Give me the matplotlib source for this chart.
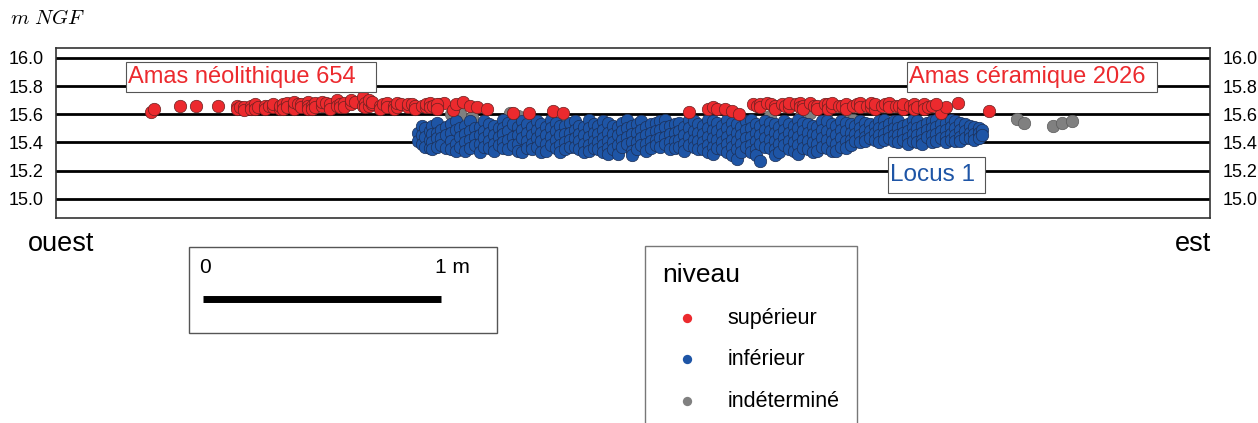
import matplotlib
matplotlib.use("Agg")
import matplotlib.pyplot as plt
from matplotlib.patches import Rectangle
from matplotlib.lines import Line2D

plt.rcParams['font.family'] = ['Liberation Sans', 'DejaVu Sans']
plt.rcParams['mathtext.fontset'] = 'cm'

# ---------------- data (distance along section in m, altitude in m NGF) ----------------
y_ticks = [15.0, 15.2, 15.4, 15.6, 15.8, 16.0]

# niveau supérieur : isolated points
red_x = [0.40, 0.41, 0.52, 0.59, 0.68,
         1.61, 1.63, 1.67, 1.68, 1.71, 1.74, 1.77, 1.81, 1.92, 1.99, 2.09, 2.13,
         2.66, 2.74, 2.76, 2.78, 2.81, 2.84, 2.87,
         3.72, 3.74, 3.79, 3.92]
red_y = [15.615, 15.635, 15.66, 15.66, 15.66,
         15.67, 15.68, 15.63, 15.67, 15.69, 15.66, 15.65, 15.64, 15.61, 15.61, 15.62, 15.61,
         15.615, 15.64, 15.65, 15.64, 15.64, 15.62, 15.60,
         15.61, 15.65, 15.68, 15.62]
# niveau supérieur : dense bands (x, [altitudes])
red_bands = [
    (0.76, [15.66, 15.64]), (0.775, [15.65]), (0.79, [15.65, 15.63]), (0.82, [15.66, 15.64]),
    (0.835, [15.67, 15.64]), (0.85, [15.65]), (0.88, [15.66, 15.64]), (0.895, [15.66]),
    (0.91, [15.65, 15.67]), (0.94, [15.64, 15.66]), (0.955, [15.67, 15.64]),
    (0.97, [15.68, 15.65]), (1.00, [15.66, 15.64, 15.69]), (1.015, [15.67]),
    (1.03, [15.67, 15.65]), (1.06, [15.69, 15.66, 15.64]), (1.075, [15.66, 15.64]),
    (1.09, [15.68, 15.65]), (1.12, [15.66, 15.69]), (1.135, [15.68]),
    (1.15, [15.67, 15.64]), (1.18, [15.70, 15.66]), (1.195, [15.67, 15.65]),
    (1.21, [15.68, 15.65]), (1.24, [15.67, 15.70]), (1.255, [15.69]),
    (1.29, [15.72, 15.66]), (1.30, [15.68, 15.65]), (1.315, [15.66, 15.70]),
    (1.33, [15.67, 15.69]), (1.36, [15.66, 15.64]), (1.375, [15.67]),
    (1.39, [15.68, 15.65]), (1.42, [15.66, 15.64]), (1.435, [15.65, 15.68]),
    (1.45, [15.67]), (1.48, [15.65, 15.67]), (1.495, [15.67]), (1.51, [15.66, 15.64]),
    (1.54, [15.66]), (1.555, [15.65, 15.67]), (1.57, [15.68, 15.65]), (1.585, [15.66]),
    (1.60, [15.67, 15.64]),
    (2.93, [15.67]), (2.945, [15.66]), (2.96, [15.67, 15.65]), (2.99, [15.68]),
    (3.005, [15.67]), (3.02, [15.66, 15.64]), (3.05, [15.67]), (3.065, [15.66]),
    (3.08, [15.65, 15.68]), (3.11, [15.67]), (3.125, [15.68, 15.65]),
    (3.14, [15.66, 15.64]), (3.17, [15.68]), (3.185, [15.66]), (3.20, [15.66, 15.64]),
    (3.23, [15.67]), (3.245, [15.67, 15.64]), (3.26, [15.65, 15.68]), (3.29, [15.66]),
    (3.305, [15.66]), (3.32, [15.67, 15.64]), (3.35, [15.66]), (3.365, [15.67]),
    (3.38, [15.68, 15.65]), (3.41, [15.66]), (3.425, [15.65, 15.68]),
    (3.44, [15.64, 15.67]), (3.47, [15.66]), (3.485, [15.67]), (3.50, [15.68, 15.65]),
    (3.53, [15.66]), (3.545, [15.66]), (3.56, [15.64, 15.67]), (3.59, [15.66]),
    (3.605, [15.67, 15.64]), (3.62, [15.65]), (3.65, [15.67, 15.64]), (3.665, [15.65]),
    (3.68, [15.66]), (3.70, [15.67]),
]

# niveau inférieur : dense band (x, [altitudes])
blue_bands = [
    (1.52, [15.47, 15.41]), (1.54, [15.52, 15.45, 15.39]), (1.55, [15.50, 15.44, 15.37]),
    (1.57, [15.48, 15.42, 15.36]), (1.58, [15.52, 15.46, 15.40, 15.35]),
    (1.60, [15.54, 15.47, 15.43, 15.37]), (1.62, [15.49, 15.43, 15.38]),
    (1.64, [15.51, 15.45, 15.36]), (1.66, [15.53, 15.47, 15.41, 15.35]),
    (1.68, [15.55, 15.49, 15.39, 15.34]), (1.70, [15.50, 15.44, 15.37]),
    (1.72, [15.52, 15.46, 15.40, 15.34]), (1.74, [15.55, 15.48, 15.42, 15.36]),
    (1.76, [15.50, 15.44, 15.38]), (1.78, [15.51, 15.45, 15.39, 15.33]),
    (1.80, [15.55, 15.48, 15.43, 15.37]), (1.82, [15.53, 15.47, 15.41, 15.36]),
    (1.84, [15.52, 15.45, 15.39, 15.34]), (1.86, [15.50, 15.44, 15.38]),
    (1.88, [15.56, 15.50, 15.46, 15.40, 15.36]), (1.90, [15.54, 15.48, 15.42, 15.35]),
    (1.92, [15.53, 15.44, 15.38]), (1.94, [15.51, 15.45, 15.39, 15.34]),
    (1.96, [15.55, 15.49, 15.43, 15.33]), (1.98, [15.53, 15.47, 15.41, 15.36]),
    (2.00, [15.51, 15.45, 15.39, 15.35]), (2.02, [15.55, 15.49, 15.43, 15.37]),
    (2.04, [15.53, 15.47, 15.41, 15.33]), (2.06, [15.51, 15.45, 15.39, 15.34]),
    (2.08, [15.56, 15.50, 15.44, 15.38]), (2.10, [15.54, 15.48, 15.42, 15.36]),
    (2.12, [15.52, 15.45, 15.38, 15.33]), (2.14, [15.52, 15.46, 15.40, 15.35]),
    (2.16, [15.54, 15.47, 15.42, 15.37]), (2.18, [15.55, 15.49, 15.43, 15.37]),
    (2.20, [15.52, 15.46, 15.41, 15.35]), (2.22, [15.51, 15.45, 15.39, 15.33]),
    (2.24, [15.56, 15.50, 15.44, 15.38, 15.34]), (2.26, [15.53, 15.47, 15.41, 15.36]),
    (2.28, [15.52, 15.46, 15.40, 15.35]), (2.30, [15.55, 15.49, 15.43, 15.38, 15.33]),
    (2.32, [15.54, 15.47, 15.41, 15.36, 15.32]), (2.34, [15.52, 15.46, 15.40, 15.35]),
    (2.36, [15.51, 15.45, 15.38, 15.32]), (2.38, [15.54, 15.48, 15.42, 15.37]),
    (2.40, [15.56, 15.50, 15.44, 15.39]), (2.42, [15.52, 15.46, 15.40, 15.34, 15.31]),
    (2.44, [15.53, 15.47, 15.40, 15.35]), (2.46, [15.55, 15.49, 15.43, 15.38]),
    (2.48, [15.51, 15.45, 15.39, 15.34]), (2.50, [15.53, 15.47, 15.41, 15.36]),
    (2.52, [15.54, 15.48, 15.42, 15.38]), (2.54, [15.55, 15.49, 15.43, 15.37]),
    (2.56, [15.56, 15.51, 15.44, 15.39]), (2.58, [15.52, 15.46, 15.40, 15.35]),
    (2.60, [15.53, 15.47, 15.41, 15.36]), (2.62, [15.54, 15.48, 15.42, 15.37]),
    (2.64, [15.51, 15.45, 15.39, 15.34]), (2.66, [15.56, 15.50, 15.44, 15.38]),
    (2.68, [15.55, 15.48, 15.42, 15.37]), (2.70, [15.53, 15.47, 15.41, 15.35]),
    (2.72, [15.52, 15.46, 15.40, 15.35]), (2.74, [15.56, 15.50, 15.44, 15.38, 15.33]),
    (2.76, [15.55, 15.49, 15.43, 15.37, 15.32]), (2.78, [15.54, 15.48, 15.42, 15.36]),
    (2.80, [15.52, 15.46, 15.40, 15.35]), (2.82, [15.56, 15.50, 15.44, 15.39, 15.33]),
    (2.84, [15.54, 15.48, 15.42, 15.37, 15.31]), (2.86, [15.53, 15.47, 15.41, 15.35, 15.28]),
    (2.88, [15.51, 15.45, 15.39, 15.33]), (2.90, [15.55, 15.49, 15.43, 15.37]),
    (2.92, [15.56, 15.50, 15.44, 15.38, 15.33]), (2.94, [15.53, 15.47, 15.41, 15.35, 15.31]),
    (2.96, [15.52, 15.45, 15.39, 15.27]), (2.98, [15.55, 15.49, 15.43, 15.37]),
    (3.00, [15.54, 15.48, 15.42, 15.36]), (3.02, [15.53, 15.47, 15.41, 15.35, 15.31]),
    (3.04, [15.51, 15.45, 15.39, 15.33]), (3.06, [15.55, 15.49, 15.43, 15.38]),
    (3.08, [15.53, 15.47, 15.41, 15.35]), (3.10, [15.52, 15.46, 15.40, 15.34]),
    (3.12, [15.56, 15.50, 15.44, 15.38, 15.32]), (3.14, [15.54, 15.48, 15.42, 15.36]),
    (3.16, [15.53, 15.47, 15.41, 15.35]), (3.18, [15.52, 15.46, 15.40, 15.33]),
    (3.20, [15.51, 15.45, 15.39, 15.34]), (3.22, [15.55, 15.49, 15.43, 15.37]),
    (3.24, [15.55, 15.48, 15.42, 15.36]), (3.26, [15.53, 15.47, 15.41, 15.34]),
    (3.28, [15.52, 15.45, 15.39, 15.34]), (3.30, [15.55, 15.49, 15.43, 15.37]),
    (3.32, [15.54, 15.48, 15.41, 15.36]), (3.34, [15.53, 15.47, 15.42, 15.38]),
    (3.36, [15.52, 15.46, 15.41]), (3.38, [15.55, 15.50, 15.45, 15.40]),
    (3.40, [15.54, 15.49, 15.44, 15.41]), (3.42, [15.53, 15.48, 15.43]),
    (3.44, [15.52, 15.47, 15.42]), (3.46, [15.55, 15.50, 15.45, 15.40]),
    (3.48, [15.56, 15.51, 15.46, 15.42]), (3.50, [15.53, 15.48, 15.43]),
    (3.52, [15.55, 15.50, 15.45, 15.41]), (3.54, [15.55, 15.50, 15.45, 15.40]),
    (3.56, [15.52, 15.47, 15.42]), (3.58, [15.53, 15.48, 15.43, 15.39]),
    (3.60, [15.56, 15.51, 15.46, 15.41]), (3.62, [15.55, 15.50, 15.45, 15.40]),
    (3.64, [15.52, 15.47, 15.42, 15.39]), (3.66, [15.54, 15.49, 15.44]),
    (3.68, [15.55, 15.50, 15.45, 15.40]), (3.70, [15.56, 15.51, 15.46, 15.41]),
    (3.72, [15.53, 15.48, 15.43]), (3.74, [15.54, 15.49, 15.44, 15.40]),
    (3.76, [15.56, 15.51, 15.46, 15.42]), (3.78, [15.55, 15.50, 15.45, 15.41]),
    (3.80, [15.54, 15.49, 15.44, 15.41]), (3.82, [15.53, 15.48, 15.43]),
    (3.84, [15.52, 15.47, 15.43]), (3.86, [15.51, 15.46, 15.42]),
    (3.88, [15.50, 15.47, 15.43]), (3.89, [15.49, 15.45]),
]

# niveau indéterminé
gray_x = [1.66, 1.70, 1.75, 1.91, 1.94, 3.00, 3.13, 3.17, 3.24, 3.33, 3.35,
          4.04, 4.07, 4.19, 4.23, 4.27]
gray_y = [15.60, 15.60, 15.58, 15.61, 15.59, 15.59, 15.59, 15.61, 15.56, 15.57, 15.56,
          15.565, 15.54, 15.52, 15.54, 15.55]

levels = ['supérieur', 'inférieur', 'indéterminé']
level_colors = ['#EC2A2E', '#1E55A6', '#808080']

# expand bands into point lists
for x, ys in red_bands:
    for y in ys:
        red_x.append(x)
        red_y.append(y)
blue_x, blue_y = [], []
for x, ys in blue_bands:
    for y in ys:
        blue_x.append(x)
        blue_y.append(y)

# ---------------- figure ----------------
W, H = 1258, 423
fig = plt.figure(figsize=(W / 100, H / 100), dpi=100)


def fx(px):
    return px / W


def fy(py):
    return 1 - py / H


ax = fig.add_axes([fx(56), fy(218), fx(1210) - fx(56), fy(48) - fy(218)])
ax.set_xlim(0, 4.85)
ax.set_ylim(14.863, 16.071)
ax.set_xticks([])
ax.set_yticks(y_ticks)
ax.yaxis.set_major_formatter('{x:.1f}')
ax.tick_params(axis='y', length=0, labelsize=13, pad=9,
               left=True, right=True, labelleft=True, labelright=True)
for sp in ax.spines.values():
    sp.set_color('#333333')
    sp.set_linewidth(1.2)
for yv in y_ticks:
    ax.axhline(yv, color='black', lw=2.0, zorder=1)

ms = 80
ax.scatter(gray_x, gray_y, s=ms, c=level_colors[2], edgecolors='#5a5a5a',
           linewidths=0.5, zorder=3, label=levels[2])
ax.scatter(blue_x, blue_y, s=ms, c=level_colors[1], edgecolors='#1c2f55',
           linewidths=0.5, zorder=4, label=levels[1])
ax.scatter(red_x, red_y, s=ms, c=level_colors[0], edgecolors='#6a2020',
           linewidths=0.5, zorder=5, label=levels[0])

# y-axis unit
fig.text(fx(10), fy(19), r'$m\ NGF$', fontsize=15, va='center', ha='left')


# labelled boxes
def label_box(x0, y0, x1, y1, text, color, size):
    fig.add_artist(Rectangle((fx(x0), fy(y1)), fx(x1) - fx(x0), fy(y0) - fy(y1),
                             transform=fig.transFigure, facecolor='white',
                             edgecolor='#555555', lw=0.8, zorder=6))
    fig.text(fx(x0 + 2), (fy(y0) + fy(y1)) / 2, text, color=color, fontsize=size,
             ha='left', va='center', zorder=7)


label_box(126, 62, 376, 92, 'Amas néolithique 654', level_colors[0], 17)
label_box(907, 62, 1157, 92, 'Amas céramique 2026', level_colors[0], 17)
label_box(888, 157, 985, 193, 'Locus 1', level_colors[1], 17.5)

# orientation
fig.text(fx(28), fy(244), 'ouest', fontsize=19.5, ha='left', va='center')
fig.text(fx(1211), fy(244), 'est', fontsize=19.5, ha='right', va='center')

# scale bar (1 m in data units)
fig.add_artist(Rectangle((fx(189), fy(333)), fx(497) - fx(189), fy(247) - fy(333),
                         transform=fig.transFigure, facecolor='white',
                         edgecolor='#555555', lw=1.0))
p0 = ax.transData.transform((0, 15.0))
p1 = ax.transData.transform((1, 15.0))
bar_len = (p1[0] - p0[0]) / W
fig.add_artist(Line2D([fx(203), fx(203) + bar_len], [fy(299), fy(299)],
                      transform=fig.transFigure, color='black', lw=5,
                      solid_capstyle='butt'))
fig.text(fx(199), fy(267), '0', fontsize=15, ha='left', va='center')
fig.text(fx(470), fy(267), '1 m', fontsize=15, ha='right', va='center')

# legend
h, l = ax.get_legend_handles_labels()
order = [l.index(n) for n in levels]
leg = fig.legend([h[i] for i in order], [l[i] for i in order],
                 loc='upper left', bbox_to_anchor=(fx(645), fy(246)),
                 bbox_transform=fig.transFigure, borderaxespad=0,
                 title='niveau', title_fontsize=19, fontsize=15.5,
                 frameon=True, fancybox=False, edgecolor='#555555',
                 borderpad=0.8, labelspacing=0.95, handlelength=2.33,
                 handletextpad=0.7, markerscale=0.75, alignment='left')
leg.get_frame().set_linewidth(1.0)
for hd in leg.legend_handles:
    hd.set_linewidth(0)

fig.savefig('out.png', dpi=100)
